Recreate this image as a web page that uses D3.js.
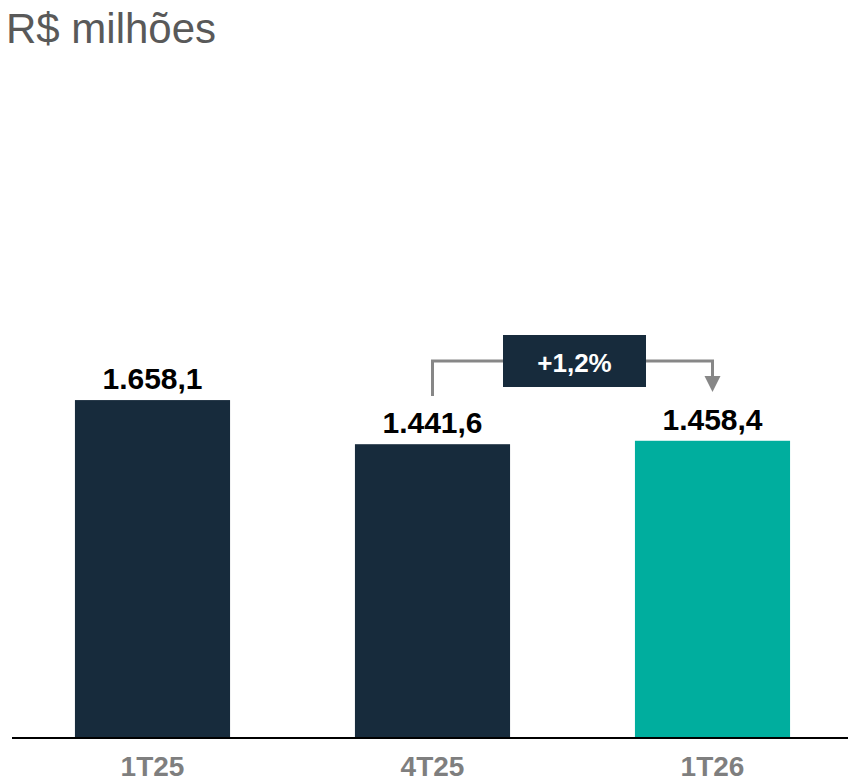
<!DOCTYPE html>
<html>
<head>
<meta charset="utf-8">
<script src="https://cdn.jsdelivr.net/npm/d3@7/dist/d3.min.js"></script>
<style>
  html, body { margin: 0; padding: 0; background: #fff; }
  svg { display: block; font-family: Arial, "Liberation Sans", sans-serif; }
</style>
</head>
<body>
<svg id="chart" width="848" height="782"></svg>
<script>
const categories = ["1T25", "4T25", "1T26"];
const values = [1658.1, 1441.6, 1458.4];
const valueLabels = ["1.658,1", "1.441,6", "1.458,4"];
const barColors = ["#172b3c", "#172b3c", "#00ae9e"];
const changeLabel = "+1,2%";
const changeFrom = 1; // index
const changeTo = 2;
const title = "R$ milhões";

const svg = d3.select("#chart");
const baseY = 738;

const x = d3.scaleBand()
  .domain(categories)
  .range([12.5, 852.5])
  .paddingInner(0.446)
  .paddingOuter(0.223);

const y = d3.scaleLinear()
  .domain([0, 3000])
  .range([baseY, baseY - 3000 * 0.2038]);

// Title
svg.append("text")
  .attr("x", 6)
  .attr("y", 43)
  .attr("font-size", 42)
  .attr("fill", "#595959")
  .text(title);

// Bars
svg.selectAll("rect.bar")
  .data(values)
  .join("rect")
  .attr("class", "bar")
  .attr("x", (d, i) => x(categories[i]))
  .attr("width", x.bandwidth())
  .attr("y", d => y(d))
  .attr("height", d => y(0) - y(d))
  .attr("fill", (d, i) => barColors[i]);

// Value labels
svg.selectAll("text.val")
  .data(values)
  .join("text")
  .attr("class", "val")
  .attr("x", (d, i) => x(categories[i]) + x.bandwidth() / 2)
  .attr("y", d => y(d) - 11)
  .attr("text-anchor", "middle")
  .attr("font-size", 30)
  .attr("font-weight", "bold")
  .attr("fill", "#000")
  .text((d, i) => valueLabels[i]);

// Axis
const axis = svg.append("g")
  .attr("transform", `translate(0,${baseY})`)
  .call(d3.axisBottom(x).tickSize(0).tickPadding(18));
axis.select(".domain").remove();
axis.append("line")
  .attr("x1", 12).attr("x2", 848)
  .attr("y1", 0).attr("y2", 0)
  .attr("stroke", "#000").attr("stroke-width", 2);
axis.selectAll(".tick text")
  .attr("font-size", 28)
  .attr("font-weight", "bold")
  .attr("fill", "#7f7f7f")
  .attr("font-family", "Arial, 'Liberation Sans', sans-serif");

// Change annotation
const cx1 = x(categories[changeFrom]) + x.bandwidth() / 2;
const cx2 = x(categories[changeTo]) + x.bandwidth() / 2;
const lineY = 361;
const ann = svg.append("g");
ann.append("path")
  .attr("d", `M${cx1},396 V${lineY} H${cx2} V377`)
  .attr("fill", "none")
  .attr("stroke", "#878787")
  .attr("stroke-width", 3);
ann.append("path")
  .attr("d", `M${cx2 - 8},376 L${cx2 + 8},376 L${cx2},392 Z`)
  .attr("fill", "#878787");
const boxCx = (cx1 + cx2) / 2 + 2;
ann.append("rect")
  .attr("x", boxCx - 71.5)
  .attr("y", 335)
  .attr("width", 143)
  .attr("height", 52)
  .attr("fill", "#172b3c");
ann.append("text")
  .attr("x", boxCx)
  .attr("y", 372)
  .attr("text-anchor", "middle")
  .attr("font-size", 26)
  .attr("font-weight", "bold")
  .attr("fill", "#fff")
  .text(changeLabel);
</script>
</body>
</html>
